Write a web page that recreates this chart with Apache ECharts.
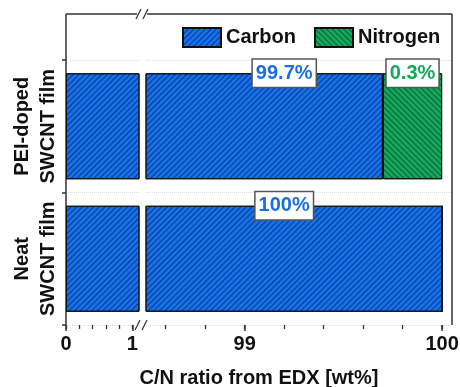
<!DOCTYPE html>
<html>
<head>
<meta charset="utf-8">
<script src="https://cdn.jsdelivr.net/npm/echarts@6/dist/echarts.min.js"></script>
<style>
  html, body { margin: 0; padding: 0; background: #fff; }
  #chart { width: 460px; height: 387px; }
</style>
</head>
<body>
<div id="chart"></div>
<script>
// data (bottom category first)
var categories = ['Neat\nSWCNT film', 'PEI-doped\nSWCNT film'];
var carbon = [100, 99.7];
var nitrogen = [0, 0.3];
var carbonLabelX = 99.2;   // where the carbon % boxes sit

// broken x axis: left piece and right piece
var leftRange = [0, 1.1];
var rightRange = [98.5, 100.05];
var leftTicks = [0, 1];
var leftMinor = [0, 0.2, 0.4, 0.6, 0.8, 1];
var rightTicks = [99, 100];
var rightMinor = [98.6, 98.8, 99, 99.2, 99.4, 99.6, 99.8, 100];

var BLUE = '#1670ea', GREEN = '#15a65e';
var AXIS = '#333';
var barW = 106;
var font = 'Liberation Sans, Arial, sans-serif';

var hatch = function (rot, col) {
  return { symbol: 'rect', symbolSize: 1, dashArrayX: [1, 0], dashArrayY: [1, 3],
           rotation: rot, color: col };
};
var carbonStyle = { color: BLUE, borderColor: '#111', borderWidth: 1, decal: hatch(-Math.PI / 4, 'rgba(5,20,70,0.6)') };
var nitroStyle = { color: GREEN, borderColor: '#111', borderWidth: 1, decal: hatch(Math.PI / 4, 'rgba(0,50,20,0.6)') };

var boxLabel = {
  fontSize: 20, fontWeight: 'bold', fontFamily: font,
  backgroundColor: '#fff', borderColor: '#555', borderWidth: 1.5, padding: [4, 3, 3, 3]
};

function xAxes(grid, range, major, minor) {
  return [{
    gridIndex: grid, type: 'value', position: 'bottom', min: range[0], max: range[1],
    axisLine: { lineStyle: { color: AXIS, width: 1.5 } },
    axisTick: { show: true, customValues: major, length: 6, lineStyle: { color: AXIS, width: 1.5 } },
    axisLabel: { customValues: major, margin: 9, fontSize: 20, fontWeight: 'bold', color: '#111', fontFamily: font },
    splitLine: { show: false }
  }, {
    gridIndex: grid, type: 'value', position: 'bottom', min: range[0], max: range[1],
    axisLine: { show: false },
    axisTick: { show: true, customValues: minor, length: 4, lineStyle: { color: AXIS, width: 1.3 } },
    axisLabel: { show: false },
    splitLine: { show: false }
  }];
}

function yAxis(grid, visible) {
  return {
    gridIndex: grid, type: 'category', data: categories,
    axisLine: { show: visible, lineStyle: { color: AXIS, width: 1.5 } },
    axisTick: { show: visible, length: 4, lineStyle: { color: AXIS, width: 1.5 } },
    axisLabel: { show: visible, interval: 0, rotate: 90, margin: 5, align: 'center', verticalAlign: 'bottom',
                 fontSize: 20, fontWeight: 'bold', color: '#111', lineHeight: 26, fontFamily: font },
    splitLine: { show: true, lineStyle: { color: '#ddd', type: 'dotted', width: 1 } }
  };
}

function bars(xi, yi) {
  return [{
    name: 'Carbon', type: 'bar', stack: 's' + xi, xAxisIndex: xi, yAxisIndex: yi,
    barWidth: barW, data: carbon, itemStyle: carbonStyle
  }, {
    name: 'Nitrogen', type: 'bar', stack: 's' + xi, xAxisIndex: xi, yAxisIndex: yi,
    barWidth: barW, itemStyle: nitroStyle,
    data: nitrogen.map(function (v) {
      return { value: v, label: { show: xi > 0 && v > 0 } };
    }),
    label: Object.assign({
      position: ['50%', 0], align: 'center', verticalAlign: 'middle',
      formatter: '{c}%', color: '#14a85a'
    }, boxLabel)
  }];
}

var labelPts = carbon.map(function (v, i) { return [carbonLabelX, i, v]; });

var option = {
  animation: false,
  textStyle: { fontFamily: font },
  grid: [
    { left: 66, right: 321, top: 60, bottom: 62, outerBoundsMode: 'none' },
    { left: 146, right: 8, top: 60, bottom: 62, outerBoundsMode: 'none' }
  ],
  legend: {
    data: ['Carbon', 'Nitrogen'], left: 177, top: 22, icon: 'rect',
    itemWidth: 38, itemHeight: 19, itemGap: 18,
    textStyle: { fontSize: 20, fontWeight: 'bold', color: '#111', fontFamily: font }
  },
  xAxis: xAxes(0, leftRange, leftTicks, leftMinor).concat(xAxes(1, rightRange, rightTicks, rightMinor)),
  yAxis: [yAxis(0, true), yAxis(1, false)],
  series: bars(0, 0).concat(bars(2, 1)).concat([{
    name: 'labels', type: 'scatter', xAxisIndex: 2, yAxisIndex: 1, symbolSize: 0, z: 5,
    itemStyle: { opacity: 1 },
    data: labelPts,
    label: Object.assign({
      show: true, position: 'inside', offset: [0, -barW / 2],
      formatter: function (p) { return p.value[2] + '%'; }, color: '#1a6fe0'
    }, boxLabel)
  }]),
  graphic: [
    // frame pieces the axes do not draw
    { type: 'line', shape: { x1: 66, y1: 14, x2: 137, y2: 14 }, style: { stroke: AXIS, lineWidth: 1.5 } },
    { type: 'line', shape: { x1: 147, y1: 14, x2: 452, y2: 14 }, style: { stroke: AXIS, lineWidth: 1.5 } },
    { type: 'line', shape: { x1: 66, y1: 14, x2: 66, y2: 60 }, style: { stroke: AXIS, lineWidth: 1.5 } },
    { type: 'line', shape: { x1: 452, y1: 14, x2: 452, y2: 325 }, style: { stroke: AXIS, lineWidth: 1.5 } },
    // break marks
    { type: 'line', shape: { x1: 136, y1: 19, x2: 141, y2: 9 }, style: { stroke: AXIS, lineWidth: 1.3 } },
    { type: 'line', shape: { x1: 143, y1: 19, x2: 148, y2: 9 }, style: { stroke: AXIS, lineWidth: 1.3 } },
    { type: 'line', shape: { x1: 135, y1: 330, x2: 140, y2: 320 }, style: { stroke: AXIS, lineWidth: 1.3 } },
    { type: 'line', shape: { x1: 142, y1: 330, x2: 147, y2: 320 }, style: { stroke: AXIS, lineWidth: 1.3 } },
    // x axis title, centred under the whole frame
    { type: 'text', x: 259, y: 368, style: { text: 'C/N ratio from EDX [wt%]', textAlign: 'center',
      fill: '#111', font: 'bold 20px ' + font } }
  ]
};

var myChart = echarts.init(document.getElementById('chart'));
myChart.setOption(option);
</script>
</body>
</html>
